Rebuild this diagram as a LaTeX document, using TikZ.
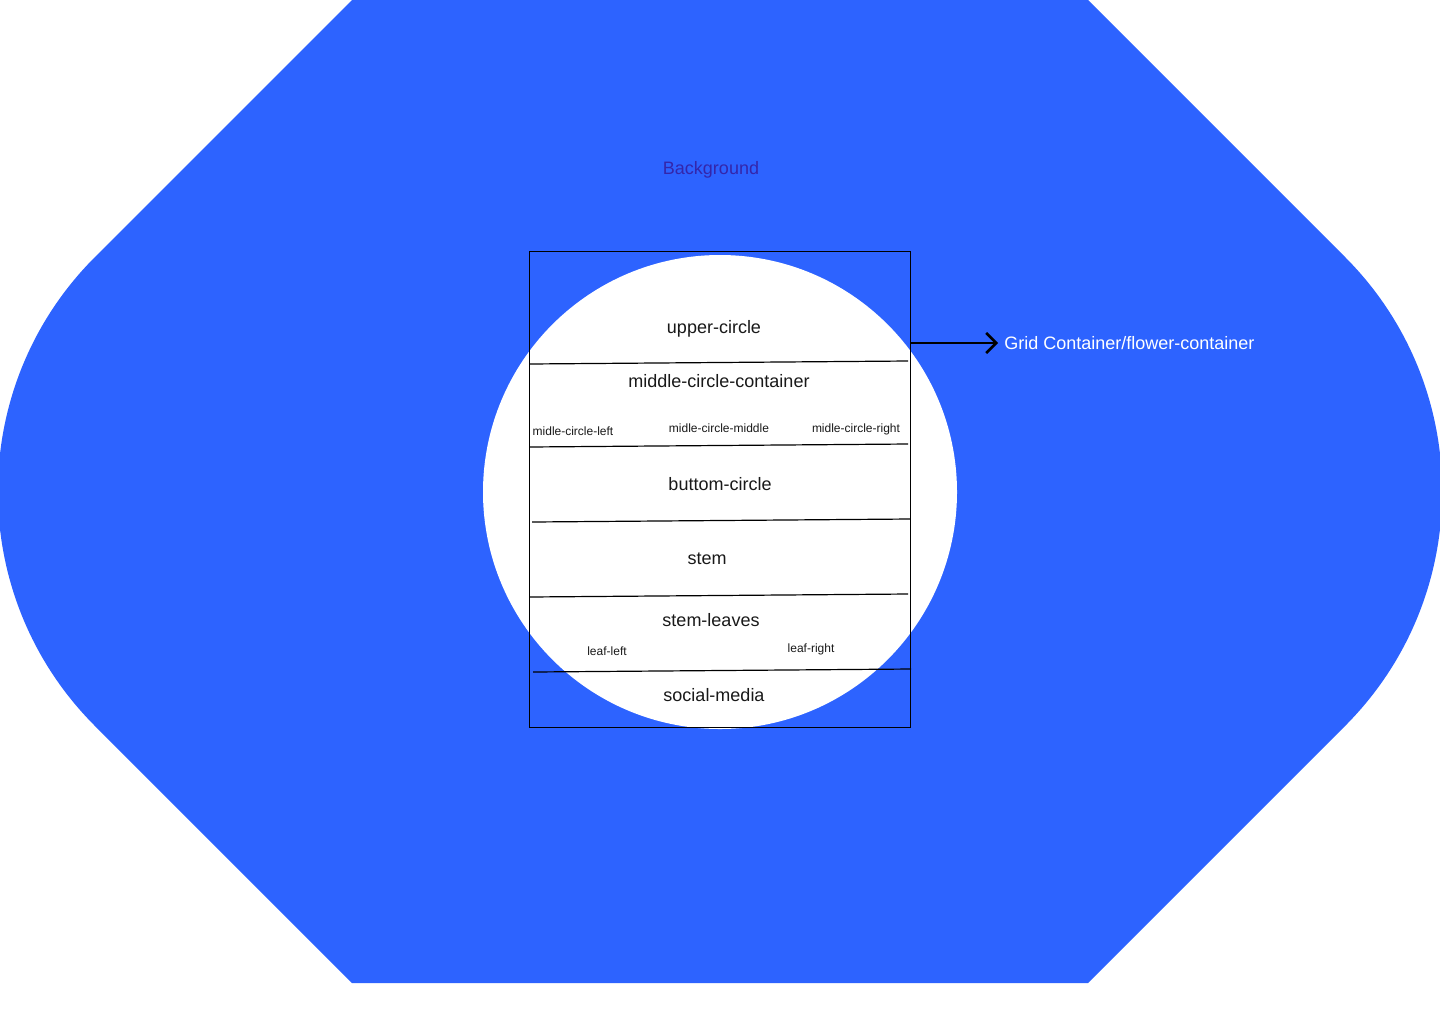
\documentclass[tikz,border=0pt]{standalone}
\usepackage{fontspec}
\setmainfont{Liberation Sans}
\usetikzlibrary{arrows.meta}
\definecolor{bgblue}{RGB}{45,99,255}
\definecolor{bgtext}{RGB}{52,38,170}
\begin{document}
\begin{tikzpicture}[x=0.5pt,y=-0.5pt,
  biglabel/.style={font=\fontsize{9}{11}\selectfont, inner sep=0pt, text=black!90},
  smalllabel/.style={font=\fontsize{6}{7}\selectfont, inner sep=0pt, text=black!90},
  divider/.style={line width=0.6pt},
  pointer/.style={line width=1.3pt,-{Straight Barb[length=5pt,width=10pt,line width=1.3pt]}}]
\fill[white] (0,0) rectangle (1440,1024);
\useasboundingbox (0,0) rectangle (1440,1024);
% background shape
\fill[bgblue] (352,0) -- (1088,0) -- (1345,257)
  .. controls (1474.5,386.5) and (1474.5,596.5) .. (1345,726)
  -- (1088,983) -- (352,983) -- (95,726)
  .. controls (-34.5,596.5) and (-34.5,386.5) .. (95,257) -- cycle;
\node[biglabel, text=bgtext] (bg) at (711,170) {Background};
% white circle
\fill[white] (720,492) circle[radius=118.5pt];
% grid container
\node[draw, line width=0.5pt, minimum width=190.5pt, minimum height=238pt, inner sep=0pt] (grid) at (719.5,489) {};
% dividers
\draw[divider] (529,364) -- (908,361);
\draw[divider] (529,447) -- (908,444);
\draw[divider] (532,522) -- (910,519);
\draw[divider] (529,597) -- (908,594);
\draw[divider] (533,672) -- (911,669);
% labels
\node[biglabel] (upper) at (714,329) {upper-circle};
\node[biglabel] (middle) at (719,381) {middle-circle-container};
\node[smalllabel] (mleft) at (573,431) {midle-circle-left};
\node[smalllabel] (mmid) at (719,428) {midle-circle-middle};
\node[smalllabel] (mright) at (856,429) {midle-circle-right};
\node[biglabel] (buttom) at (720,484) {buttom-circle};
\node[biglabel] (stem) at (707,559) {stem};
\node[biglabel] (leaves) at (711,620) {stem-leaves};
\node[smalllabel] (lleft) at (607,651) {leaf-left};
\node[smalllabel] (lright) at (811,649) {leaf-right};
\node[biglabel] (social) at (714,695) {social-media};
% grid label and arrow
\node[biglabel, anchor=west, text=white] (gridlabel) at (1004,343) {Grid Container/flower-container};
\draw[pointer] (grid.east |- gridlabel.west) -- ([xshift=-3pt]gridlabel.west);
\end{tikzpicture}
\end{document}
